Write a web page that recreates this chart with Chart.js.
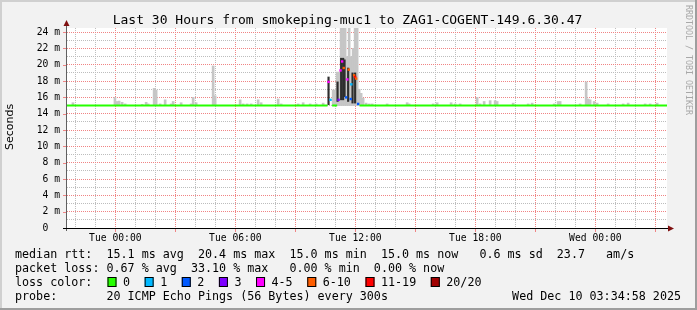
<!DOCTYPE html>
<html>
<head>
<meta charset="utf-8">
<title>smokeping-muc1 to ZAG1-COGENT-149.6.30.47</title>
<script src="https://cdn.jsdelivr.net/npm/chart.js@4.4.1/dist/chart.umd.min.js"></script>
<style>
  html, body { margin: 0; padding: 0; background: #f2f2f2; }
  canvas { display: block; }
</style>
</head>
<body>
<canvas id="pingChart" width="697" height="310"></canvas>
<script>
// time axis in hours relative to Tue 00:00 (graph spans Mon 21:35 -> Wed 03:35)
const startHour = -2.417;
const endHour = 27.583;

const tickHours = [0, 6, 12, 18, 24];
const tickLabels = ['Tue 00:00', 'Tue 06:00', 'Tue 12:00', 'Tue 18:00', 'Wed 00:00'];

// light smoke: sample time (h) and slowest ping of the sample (ms)
const smokeBase = 15.0;
const smokeTimes = [
  -2.12, -0.02, 0.09, 0.19, 0.34, 0.49, 1.34, 1.54, 1.64, 1.94, 2.04, 2.24, 2.49, 2.79, 2.89,
  3.29, 3.79, 3.89, 4.04, 4.89, 4.99, 6.24, 6.39, 6.59, 6.79, 7.14, 7.29, 8.14, 8.29, 9.14,
  9.39, 9.74, 10.04, 10.39, 10.89, 10.99, 11.09, 11.19, 11.29, 11.39, 11.49, 11.59, 11.69,
  11.79, 11.89, 11.99, 12.09, 12.19, 12.29, 12.39, 12.54, 12.69, 12.84, 13.59, 14.59, 14.69,
  15.89, 16.09, 16.79, 16.99, 17.24, 18.09, 18.24, 18.44, 18.74, 18.99, 19.09, 19.89, 20.64,
  20.84, 21.94, 22.14, 22.24, 23.24, 23.54, 23.64, 23.74, 23.94, 24.09, 24.64, 25.39, 25.64,
  26.49, 26.74, 27.09
];
const smokeTops = [
  15.35, 16.0, 15.5, 15.55, 15.4, 15.2, 15.15, 15.4, 15.2, 17.1, 16.9, 15.2, 15.7, 15.2, 15.5,
  15.35, 15.2, 16.0, 15.35, 19.85, 16.2, 15.7, 15.2, 15.2, 15.2, 15.7, 15.35, 15.8, 15.2, 15.2,
  15.35, 15.2, 15.2, 15.3, 16.9, 16.9, 19.1, 19.1, 26.0, 26.0, 26.0, 21.0, 26.0,
  21.0, 22.0, 26.0, 26.0, 17.0, 16.5, 15.9, 15.3, 15.2, 15.2, 15.2, 15.35, 15.2,
  15.2, 15.35, 15.35, 15.2, 15.2, 16.0, 15.2, 15.5, 15.6, 15.6, 15.5, 15.3, 15.2,
  15.3, 15.2, 15.5, 15.5, 15.2, 17.9, 15.8, 15.7, 15.5, 15.3, 15.2, 15.2, 15.3,
  15.2, 15.2, 15.3
];

// dense smoke during the loss event
const denseTimes = [10.66, 11.11, 11.29, 11.39, 11.46, 11.64, 11.86, 11.99];
const denseLows  = [15.1, 15.5, 15.7, 15.7, 16.1, 15.5, 15.3, 15.3];
const denseHighs = [18.5, 17.9, 20.8, 20.8, 20.6, 19.6, 19.0, 19.0];

// median rtt of loss-free samples (null = gap)
const medianTimes  = [startHour, 10.61, 10.65, 10.84, 11.09, 11.12, 12.21, endHour];
const medianValues = [15.0, 15.0, null, 15.0, 15.0, null, 15.0, 15.0];

// median rtt of samples with packet loss, bucket = index into lossLabels
const lossTimes   = [10.66, 10.76, 11.16, 11.26, 11.34, 11.42, 11.54, 11.60, 11.67, 11.77, 11.80, 11.94, 11.99, 12.04, 12.14];
const lossMedians = [17.9, 15.7, 15.7, 19.3, 20.4, 19.6, 16.0, 18.2, 19.4, 15.8, 17.6, 18.7, 18.5, 18.3, 15.2];
const lossBuckets = [4, 1, 3, 4, 4, 5, 2, 4, 5, 2, 1, 5, 6, 5, 2];

const lossLabels = ['0', '1', '2', '3', '4-5', '6-10', '11-19', '20/20'];
const lossColors = ['#26ff00', '#00b8ff', '#0059ff', '#7e00ff', '#ff00ff', '#ff5e00', '#ff0000', '#a10000'];

const titleText = 'Last 30 Hours from smokeping-muc1 to ZAG1-COGENT-149.6.30.47';
const rttLine = 'median rtt:  15.1 ms avg  20.4 ms max  15.0 ms min  15.0 ms now   0.6 ms sd  23.7   am/s';
const lossLine = 'packet loss: 0.67 % avg  33.10 % max   0.00 % min  0.00 % now';
const probeLine = 'probe:       20 ICMP Echo Pings (56 Bytes) every 300s';
const stampText = 'Wed Dec 10 03:34:58 2025';

const MONO = '"DejaVu Sans Mono", monospace';
const MAJOR = '#f08484';
const MINOR = '#bdbdbd';

// frame, white plot area, axes with arrows, title and legend text
const rrdDecor = {
  id: 'rrdDecor',
  beforeDraw(chart) {
    const { ctx, chartArea: a, width, height } = chart;
    ctx.save();
    ctx.fillStyle = '#f2f2f2';
    ctx.fillRect(0, 0, width, height);
    ctx.fillStyle = '#d0d0d0';
    ctx.fillRect(0, 0, width, 2);
    ctx.fillRect(0, 0, 2, height);
    ctx.fillStyle = '#9e9e9e';
    ctx.fillRect(0, height - 2, width, 2);
    ctx.fillRect(width - 2, 0, 2, height);
    ctx.fillStyle = '#ffffff';
    ctx.fillRect(a.left, a.top, a.right - a.left, a.bottom - a.top);
    ctx.restore();
  },
  afterDraw(chart) {
    const { ctx, chartArea: a } = chart;
    const xs = chart.scales.x, ys = chart.scales.y;
    ctx.save();

    // small tick marks outside the plot for major grid lines
    ctx.strokeStyle = MAJOR;
    ctx.lineWidth = 1;
    xs.ticks.forEach(t => {
      if (t.value % 3 !== 0) return;
      const px = Math.round(xs.getPixelForValue(t.value)) + 0.5;
      ctx.beginPath(); ctx.moveTo(px, a.bottom); ctx.lineTo(px, a.bottom + 4); ctx.stroke();
    });
    ys.ticks.forEach(t => {
      if (t.value % 2 !== 0) return;
      const py = Math.round(ys.getPixelForValue(t.value)) + 0.5;
      ctx.beginPath(); ctx.moveTo(a.left - 4, py); ctx.lineTo(a.left, py); ctx.stroke();
    });

    // axes
    ctx.strokeStyle = '#606060';
    ctx.beginPath(); ctx.moveTo(a.left - 0.5, a.bottom + 3); ctx.lineTo(a.left - 0.5, a.top - 3); ctx.stroke();
    ctx.strokeStyle = '#000000';
    ctx.beginPath(); ctx.moveTo(a.left - 4, a.bottom + 0.5); ctx.lineTo(a.right + 2, a.bottom + 0.5); ctx.stroke();
    ctx.fillStyle = '#7f1010';
    ctx.beginPath();
    ctx.moveTo(a.left - 3.5, a.top - 2); ctx.lineTo(a.left + 2.5, a.top - 2); ctx.lineTo(a.left - 0.5, a.top - 8);
    ctx.closePath(); ctx.fill();
    ctx.beginPath();
    ctx.moveTo(a.right + 1, a.bottom - 2.5); ctx.lineTo(a.right + 1, a.bottom + 3.5); ctx.lineTo(a.right + 7, a.bottom + 0.5);
    ctx.closePath(); ctx.fill();

    // title
    ctx.fillStyle = '#000000';
    ctx.font = '13px ' + MONO;
    ctx.textAlign = 'center';
    ctx.textBaseline = 'alphabetic';
    ctx.fillText(titleText, 347.5, 24);

    // y axis name
    ctx.save();
    ctx.translate(10, 127);
    ctx.rotate(-Math.PI / 2);
    ctx.font = '11px "DejaVu Sans", sans-serif';
    ctx.textBaseline = 'middle';
    ctx.fillText('Seconds', 0, 0);
    ctx.restore();

    // watermark
    ctx.save();
    ctx.translate(688, 5);
    ctx.rotate(Math.PI / 2);
    ctx.font = '8.3px ' + MONO;
    ctx.fillStyle = '#a8a8a8';
    ctx.textAlign = 'left';
    ctx.textBaseline = 'middle';
    ctx.fillText('RRDTOOL / TOBI OETIKER', 0, 0);
    ctx.restore();

    // legend block
    ctx.font = '11.7px ' + MONO;
    ctx.fillStyle = '#000000';
    ctx.textAlign = 'left';
    ctx.fillText(rttLine, 15, 258);
    ctx.fillText(lossLine, 15, 272);
    ctx.fillText('loss color:', 15, 286);
    let bx = 107.5;
    lossLabels.forEach((lbl, i) => {
      ctx.fillStyle = lossColors[i];
      ctx.fillRect(bx, 277, 9, 10);
      ctx.strokeStyle = '#000000';
      ctx.strokeRect(bx + 0.5, 277.5, 8, 9);
      ctx.fillStyle = '#000000';
      const lx = bx + 15.5;
      ctx.fillText(lbl, lx, 286);
      bx = lx + ctx.measureText(lbl).width + 14.6;
    });
    ctx.fillText(probeLine, 15, 300);
    ctx.textAlign = 'right';
    ctx.fillText(stampText, 681, 300);

    ctx.restore();
  }
};

const smokeData = smokeTimes.map((t, i) => ({ x: t, y: [smokeBase, smokeTops[i]] }));
const denseData = denseTimes.map((t, i) => ({ x: t, y: [denseLows[i], denseHighs[i]] }));

new Chart(document.getElementById('pingChart'), {
  type: 'bar',
  data: {
    datasets: [
      {
        type: 'scatter',
        label: 'loss median',
        data: lossTimes.map((t, i) => ({ x: t, y: lossMedians[i] })),
        pointStyle: 'rect',
        pointRadius: 1.7,
        borderWidth: 0,
        backgroundColor: lossBuckets.map(b => lossColors[b]),
        order: 0
      },
      {
        type: 'line',
        label: 'median rtt',
        data: medianTimes.map((t, i) => ({ x: t, y: medianValues[i] })),
        borderColor: lossColors[0],
        borderWidth: 2,
        pointRadius: 0,
        spanGaps: false,
        order: 1
      },
      {
        type: 'bar',
        label: 'dense smoke',
        data: denseData,
        backgroundColor: '#2e2e2e',
        borderWidth: 0,
        borderSkipped: false,
        barThickness: 1.5,
        stack: 'smoke',
        order: 2
      },
      {
        type: 'bar',
        label: 'smoke',
        data: smokeData,
        backgroundColor: '#c6c6c6',
        borderWidth: 0,
        borderSkipped: false,
        barThickness: 2,
        stack: 'smoke',
        order: 3
      }
    ]
  },
  options: {
    responsive: false,
    animation: false,
    events: [],
    layout: { padding: { top: 28, right: 30, bottom: 62, left: 0 } },
    plugins: {
      legend: { display: false },
      tooltip: { enabled: false },
      title: { display: false }
    },
    scales: {
      x: {
        type: 'linear',
        min: startHour,
        max: endHour,
        offset: false,
        afterBuildTicks: s => {
          const t = [];
          for (let h = Math.ceil(startHour); h <= Math.floor(endHour); h++) t.push({ value: h });
          s.ticks = t;
        },
        afterFit: s => { s.height = 20; },
        grid: {
          offset: false,
          drawTicks: false,
          color: c => (c.tick && c.tick.value % 3 === 0 ? MAJOR : MINOR)
        },
        border: { display: false, dash: [1, 1] },
        ticks: {
          autoSkip: false,
          maxRotation: 0,
          minRotation: 0,
          padding: 5,
          color: '#000000',
          font: { family: MONO, size: 9.7 },
          callback: v => {
            const i = tickHours.indexOf(v);
            return i >= 0 ? tickLabels[i] : '';
          }
        }
      },
      y: {
        min: 0,
        max: 24.5,
        stacked: false,
        afterBuildTicks: s => {
          const t = [];
          for (let v = 0; v <= 24; v++) t.push({ value: v });
          s.ticks = t;
        },
        afterFit: s => { s.width = 67; },
        grid: {
          drawTicks: false,
          color: c => (c.tick && c.tick.value % 2 === 0 ? MAJOR : MINOR)
        },
        border: { display: false, dash: [1, 1] },
        ticks: {
          autoSkip: false,
          padding: 7,
          color: '#000000',
          font: { family: MONO, size: 9.7 },
          callback: v => (v % 2 === 0 ? (v === 0 ? '0  ' : v + ' m') : '')
        }
      }
    }
  },
  plugins: [rrdDecor]
});
</script>
</body>
</html>
